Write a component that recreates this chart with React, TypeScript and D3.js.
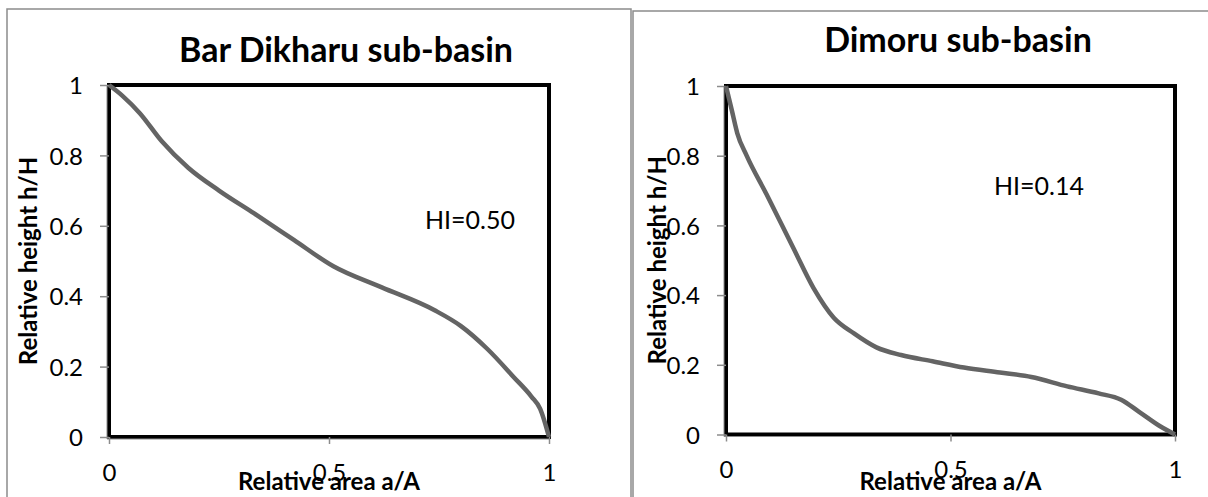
import React, { useEffect, useRef } from 'react';
import * as d3 from 'd3';

// hypsometric curves
const barDikharuArea = [0, 0.03, 0.07, 0.12, 0.18, 0.25, 0.33, 0.42, 0.51, 0.62, 0.74, 0.8, 0.86, 0.92, 0.96, 0.98, 1];
const barDikharuHeight = [1, 0.97, 0.92, 0.84, 0.765, 0.7, 0.635, 0.56, 0.485, 0.425, 0.36, 0.315, 0.25, 0.17, 0.115, 0.08, 0];

const dimoruArea = [0, 0.013, 0.025, 0.046, 0.09, 0.15, 0.195, 0.24, 0.285, 0.335, 0.39, 0.46, 0.53, 0.61, 0.68, 0.76, 0.83, 0.88, 0.92, 0.965, 1];
const dimoruHeight = [1, 0.93, 0.865, 0.8, 0.69, 0.535, 0.42, 0.335, 0.29, 0.25, 0.228, 0.21, 0.192, 0.178, 0.165, 0.138, 0.118, 0.1, 0.065, 0.025, 0];

const xTicks = [0, 0.5, 1];
const yTicks = [0, 0.2, 0.4, 0.6, 0.8, 1];
const titles = ['Bar Dikharu sub-basin', 'Dimoru sub-basin'];
const hiLabels = ['HI=0.50', 'HI=0.14'];
const xTitle = 'Relative area a/A';
const yTitle = 'Relative height h/H';

const FONT = 'Lato, "Open Sans", sans-serif';

const panels = [
  {
    area: barDikharuArea, height: barDikharuHeight, title: titles[0], hi: hiLabels[0],
    box: { x: 7, y: 9, w: 624, h: 520 },
    plot: { left: 109, right: 549, top: 85, bottom: 437 },
    titleAt: [346, 62], hiAt: [425, 229], yTitleX: 28,
  },
  {
    area: dimoruArea, height: dimoruHeight, title: titles[1], hi: hiLabels[1],
    box: { x: 633, y: 11, w: 600, h: 520 },
    plot: { left: 726, right: 1175, top: 86, bottom: 434.5 },
    titleAt: [958, 52], hiAt: [994, 195], yTitleX: 657,
  },
];

export default function App() {
  const ref = useRef<SVGSVGElement>(null);

  useEffect(() => {
    const svg = d3.select(ref.current);
    svg.selectAll('*').remove();

    panels.forEach((p) => {
      const g = svg.append('g');

      g.append('rect')
        .attr('x', p.box.x).attr('y', p.box.y)
        .attr('width', p.box.w).attr('height', p.box.h)
        .attr('fill', 'white').attr('stroke', '#8c8c8c').attr('stroke-width', 1.5);

      const x = d3.scaleLinear().domain([0, 1]).range([p.plot.left, p.plot.right]);
      const y = d3.scaleLinear().domain([0, 1]).range([p.plot.bottom, p.plot.top]);

      // black frame round the plot area
      g.append('rect')
        .attr('x', x(0)).attr('y', y(1))
        .attr('width', x(1) - x(0)).attr('height', y(0) - y(1))
        .attr('fill', 'none').attr('stroke', 'black').attr('stroke-width', 4);

      // axes
      const yAxis = g.append('g')
        .attr('transform', 'translate(' + x(0) + ',0)')
        .call(d3.axisLeft(y).tickValues(yTicks).tickSize(9).tickFormat(d3.format('~g')));
      const xAxis = g.append('g')
        .attr('transform', 'translate(0,' + y(0) + ')')
        .call(d3.axisBottom(x).tickValues(xTicks).tickSize(7).tickFormat(d3.format('~g')));

      [yAxis, xAxis].forEach((a) => {
        a.select('.domain').remove();
        a.selectAll('line').attr('stroke', '#8c8c8c').attr('stroke-width', 1.5);
        a.selectAll('text')
          .attr('fill', 'black')
          .style('font-family', FONT)
          .style('font-size', '24px');
      });
      yAxis.selectAll('text').attr('x', -26).attr('dy', '0.36em');
      xAxis.selectAll('text').attr('y', 35).attr('dy', '0.36em');

      // gray axis lines over the frame
      g.append('line')
        .attr('x1', x(0) - 2).attr('x2', x(0) - 2).attr('y1', y(1)).attr('y2', y(0) + 2)
        .attr('stroke', '#8c8c8c').attr('stroke-width', 1);
      g.append('line')
        .attr('x1', x(0) - 2).attr('x2', x(1)).attr('y1', y(0) + 2).attr('y2', y(0) + 2)
        .attr('stroke', '#8c8c8c').attr('stroke-width', 1);

      const line = d3.line<number>()
        .x((d) => x(d))
        .y((d, i) => y(p.height[i]))
        .curve(d3.curveMonotoneX);

      g.append('path')
        .datum(p.area)
        .attr('fill', 'none')
        .attr('stroke', '#646464')
        .attr('stroke-width', 4.5)
        .attr('stroke-linejoin', 'round')
        .attr('d', line);

      g.append('text')
        .attr('x', p.titleAt[0]).attr('y', p.titleAt[1])
        .attr('text-anchor', 'middle')
        .style('font-family', FONT).style('font-weight', 'bold').style('font-size', '34px')
        .text(p.title);

      g.append('text')
        .attr('x', p.hiAt[0]).attr('y', p.hiAt[1])
        .style('font-family', FONT).style('font-size', '25px')
        .text(p.hi);

      g.append('text')
        .attr('x', (x(0) + x(1)) / 2).attr('y', 490)
        .attr('text-anchor', 'middle')
        .style('font-family', FONT).style('font-weight', 'bold').style('font-size', '24px')
        .text(xTitle);

      g.append('text')
        .attr('transform', 'translate(' + (p.yTitleX + 9) + ',' + (y(0.5)) + ') rotate(-90)')
        .attr('text-anchor', 'middle')
        .style('font-family', FONT).style('font-weight', 'bold').style('font-size', '24px')
        .text(yTitle);
    });
  }, []);

  return (
    <svg
      ref={ref}
      width={1208}
      height={497}
      style={{ position: 'absolute', left: 0, top: 0, display: 'block', background: 'white' }}
    />
  );
}
